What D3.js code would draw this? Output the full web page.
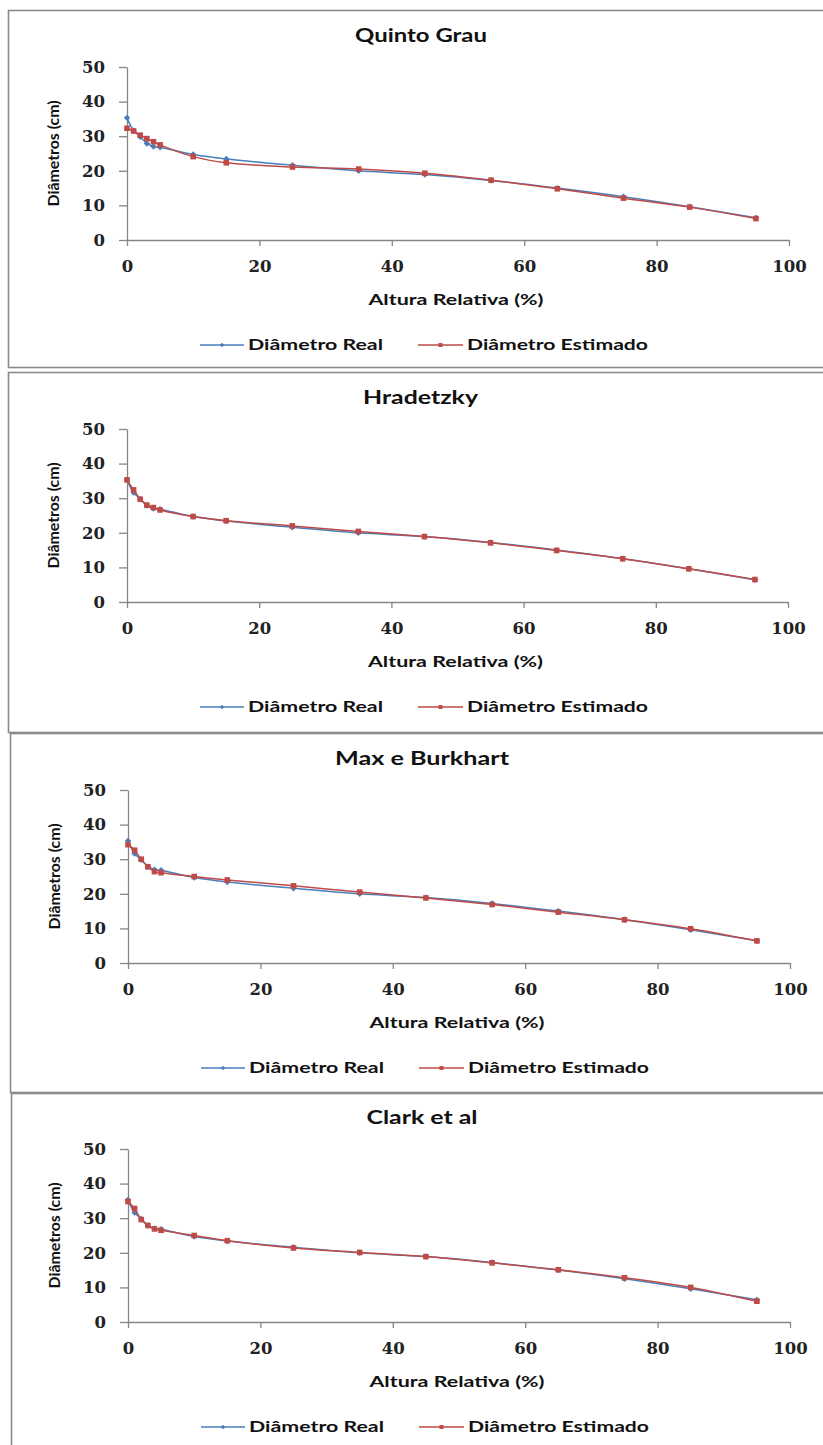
<!DOCTYPE html>
<html><head><meta charset="utf-8">
<script src="https://cdn.jsdelivr.net/npm/d3@7"></script>
<style>body{margin:0;background:#fff}</style>
</head><body><svg id="c" width="823" height="1445"></svg>
<script>
// ---- data ----
const alturas = [0, 1, 2, 3, 4, 5, 10, 15, 25, 35, 45, 55, 65, 75, 85, 95];
const diametroReal = [35.3, 31.6, 29.8, 27.9, 27.0, 26.8, 24.7, 23.4, 21.6, 20.0, 18.9, 17.2, 15.0, 12.5, 9.6, 6.4];
const estQuintoGrau = [32.3, 31.5, 30.3, 29.3, 28.4, 27.5, 24.1, 22.3, 21.1, 20.5, 19.3, 17.3, 14.8, 12.1, 9.5, 6.2];
const estHradetzky = [35.3, 32.4, 29.7, 28.0, 27.3, 26.6, 24.7, 23.5, 22.0, 20.4, 18.9, 17.1, 14.9, 12.5, 9.6, 6.5];
const estMaxBurkhart = [34.2, 32.6, 30.0, 27.8, 26.4, 26.1, 25.0, 24.0, 22.3, 20.5, 18.8, 16.9, 14.7, 12.5, 9.9, 6.4];
const estClark = [34.8, 32.8, 29.6, 27.9, 26.9, 26.5, 25.0, 23.5, 21.4, 20.1, 18.9, 17.1, 15.1, 12.8, 10.0, 6.0];
const titulos = ["Quinto Grau", "Hradetzky", "Max e Burkhart", "Clark et al"];
const estimados = [estQuintoGrau, estHradetzky, estMaxBurkhart, estClark];
const xTicks = [0, 20, 40, 60, 80, 100];
const yTicks = [0, 10, 20, 30, 40, 50];
const seriesNames = ["Diâmetro Real", "Diâmetro Estimado"];
const xTitle = "Altura Relativa (%)";
const yTitle = "Diâmetros (cm)";

// ---- layout / style ----
const layout = [
  {boxTop: 10,   boxBottom: 367,  boxLeft: 8,  x0: 127, x1: 789, yTop: 67,   yBottom: 240},
  {boxTop: 372,  boxBottom: 732,  boxLeft: 8,  x0: 127, x1: 788, yTop: 429,  yBottom: 602},
  {boxTop: 733,  boxBottom: 1092, boxLeft: 10, x0: 128, x1: 790, yTop: 790,  yBottom: 963},
  {boxTop: 1093, boxBottom: 1470, boxLeft: 11, x0: 128, x1: 790, yTop: 1149, yBottom: 1322}
];
const titleWidths = [132, 115, 174, 111];
const colors = ["#4A7EBB", "#BE4B48"];
const axisColor = "#868686";
const sansFont = "Lato, 'Open Sans', sans-serif";
const serifFont = "'DejaVu Serif', serif";

const svg = d3.select("#c");

function fitText(sel, w) {
  sel.attr("textLength", w).attr("lengthAdjust", "spacingAndGlyphs");
}

layout.forEach((L, i) => {
  const g = svg.append("g");
  // frame
  g.append("rect")
    .attr("x", L.boxLeft + 0.5).attr("y", L.boxTop + 0.5)
    .attr("width", 840 - L.boxLeft).attr("height", L.boxBottom - L.boxTop)
    .attr("fill", "#fff").attr("stroke", "#8a8a8a").attr("stroke-width", 1.6);

  const x = d3.scaleLinear().domain([0, 100]).range([L.x0, L.x1]);
  const y = d3.scaleLinear().domain([0, 50]).range([L.yBottom, L.yTop]);

  // title
  const cx = (L.x0 + L.x1) / 2 - 37;
  g.append("text").attr("x", cx).attr("y", L.yTop - 31).attr("dy", "0.35em")
    .attr("text-anchor", "middle").attr("font-family", sansFont)
    .attr("font-weight", "bold").attr("font-size", 18).attr("fill", "#111")
    .text(titulos[i]).call(fitText, titleWidths[i]);

  // y axis
  const ya = g.append("g").attr("transform", `translate(${L.x0},0)`)
    .call(d3.axisLeft(y).tickValues(yTicks).tickSize(8).tickSizeOuter(0).tickPadding(14));
  ya.select(".domain").attr("stroke", axisColor).attr("stroke-width", 1.3);
  ya.selectAll(".tick line").attr("stroke", axisColor).attr("stroke-width", 1.3);
  ya.selectAll(".tick text").attr("font-family", serifFont).attr("font-weight", "bold")
    .attr("font-size", 16.5).attr("fill", "#222");

  // x axis
  const xa = g.append("g").attr("transform", `translate(0,${L.yBottom})`)
    .call(d3.axisBottom(x).tickValues(xTicks).tickSize(6).tickSizeOuter(0));
  xa.select(".domain").attr("stroke", axisColor).attr("stroke-width", 1.3);
  xa.selectAll(".tick line").attr("stroke", axisColor).attr("stroke-width", 1.3);
  xa.selectAll(".tick text").attr("y", 26).attr("dy", "0.35em")
    .attr("font-family", serifFont).attr("font-weight", "bold")
    .attr("font-size", 16.5).attr("fill", "#222");

  // axis titles
  g.append("text").attr("x", (L.x0 + L.x1) / 2 - 2).attr("y", L.yBottom + 60).attr("dy", "0.35em")
    .attr("text-anchor", "middle").attr("font-family", sansFont).attr("font-weight", "bold")
    .attr("font-size", 15).attr("fill", "#111").text(xTitle).call(fitText, 175);
  g.append("text")
    .attr("transform", `translate(${L.x0 - 73},${(L.yTop + L.yBottom) / 2}) rotate(-90)`)
    .attr("dy", "0.35em").attr("text-anchor", "middle").attr("font-family", sansFont)
    .attr("font-weight", "bold").attr("font-size", 15).attr("fill", "#111")
    .text(yTitle).call(fitText, 106);

  // series
  const series = [diametroReal, estimados[i]];
  const line = d3.line().x((d, k) => x(alturas[k])).y(d => y(d)).curve(d3.curveCatmullRom.alpha(0.5));
  series.forEach((vals, s) => {
    g.append("path").datum(vals).attr("d", line).attr("fill", "none")
      .attr("stroke", colors[s]).attr("stroke-width", 1.5);
    const m = g.append("g").selectAll("path").data(vals).join("path")
      .attr("transform", (d, k) => `translate(${x(alturas[k])},${y(d)})`)
      .attr("fill", colors[s]);
    if (s === 0) m.attr("d", "M0,-3.2L3.2,0L0,3.2L-3.2,0Z");
    else m.attr("d", "M-2.8,-2.8H2.8V2.8H-2.8Z");
  });

  // legend
  const ly = L.yBottom + 105;
  const legendPos = [{l0: 73, l1: 117, t: 121, w: 135}, {l0: 291, l1: 336, t: 340, w: 181}];
  seriesNames.forEach((name, s) => {
    const P = legendPos[s];
    g.append("line").attr("x1", L.x0 + P.l0).attr("x2", L.x0 + P.l1)
      .attr("y1", ly).attr("y2", ly).attr("stroke", colors[s]).attr("stroke-width", 1.5);
    const mc = L.x0 + (P.l0 + P.l1) / 2;
    g.append("path").attr("transform", `translate(${mc},${ly})`)
      .attr("d", s === 0 ? "M0,-2.2L2.2,0L0,2.2L-2.2,0Z" : "M-2,-2H2V2H-2Z")
      .attr("fill", colors[s]);
    g.append("text").attr("x", L.x0 + P.t).attr("y", ly).attr("dy", "0.35em")
      .attr("font-family", sansFont).attr("font-weight", "bold").attr("font-size", 15)
      .attr("fill", "#111").text(name).call(fitText, P.w);
  });
});
</script></body></html>
